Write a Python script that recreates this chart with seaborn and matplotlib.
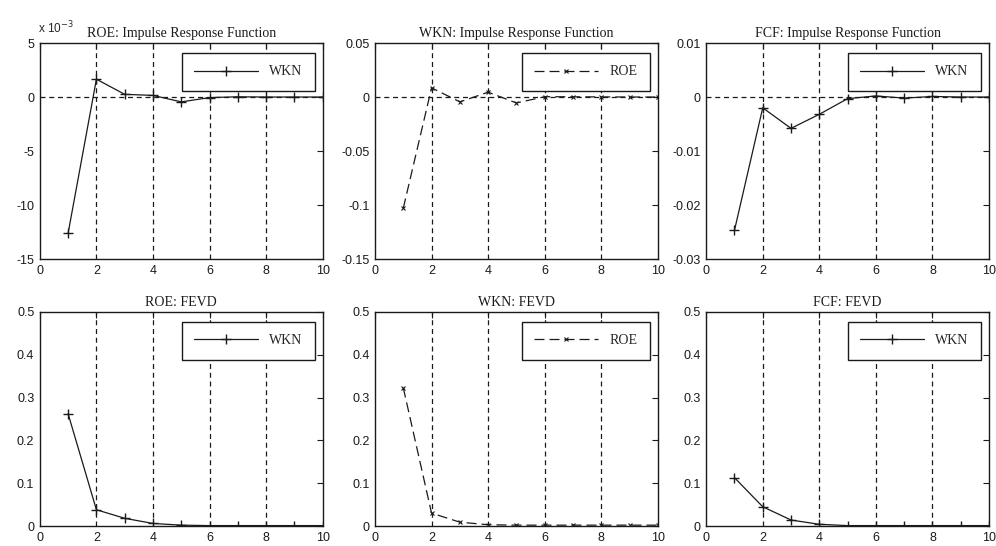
import numpy as np
import pandas as pd
import matplotlib
matplotlib.use("Agg")
import matplotlib.pyplot as plt
import seaborn as sns

sns.set_theme(style="white")
plt.rcParams['font.family'] = ['Liberation Sans', 'DejaVu Sans']

periods = list(range(1, 11))

# impulse responses
roe_irf = [-12.6e-3, 1.65e-3, 0.25e-3, 0.15e-3, -0.45e-3, -0.05e-3, 0.02e-3, 0.0, 0.0, 0.0]
wkn_irf = [-0.103, 0.0085, -0.0045, 0.0045, -0.0055, 0.0003, 0.0002, 0.0001, 0.0, 0.0]
fcf_irf = [-0.0247, -0.0020, -0.0058, -0.0032, -0.0003, 0.0002, -0.0002, 0.0001, 0.0, 0.0]

# variance decompositions
roe_fevd = [0.262, 0.038, 0.018, 0.006, 0.002, 0.001, 0.001, 0.001, 0.001, 0.001]
wkn_fevd = [0.323, 0.030, 0.009, 0.003, 0.002, 0.002, 0.002, 0.002, 0.002, 0.002]
fcf_fevd = [0.113, 0.045, 0.014, 0.004, 0.001, 0.001, 0.001, 0.001, 0.001, 0.001]

titles = ["ROE: Impulse Response Function", "WKN: Impulse Response Function",
          "FCF: Impulse Response Function", "ROE: FEVD", "WKN: FEVD", "FCF: FEVD"]
series = [roe_irf, wkn_irf, fcf_irf, roe_fevd, wkn_fevd, fcf_fevd]
shock = ["WKN", "ROE", "WKN", "WKN", "ROE", "WKN"]
ylims = [(-0.015, 0.005), (-0.15, 0.05), (-0.03, 0.01), (0, 0.5), (0, 0.5), (0, 0.5)]
yticks = [np.arange(-0.015, 0.0051, 0.005), np.arange(-0.15, 0.051, 0.05),
          np.arange(-0.03, 0.011, 0.01), np.arange(0, 0.51, 0.1),
          np.arange(0, 0.51, 0.1), np.arange(0, 0.51, 0.1)]

fig = plt.figure(figsize=(9.96, 5.46), dpi=100)
lefts = [0.040, 0.3765, 0.709]
rows = [(0.5256, 0.3956), (0.0366, 0.392)]

serif = ['Liberation Serif', 'DejaVu Serif']

for i in range(6):
    r, c = divmod(i, 3)
    ax = fig.add_axes([lefts[c], rows[r][0], 0.284, rows[r][1]])
    df = pd.DataFrame({"period": periods, "value": series[i]})
    if shock[i] == "ROE":
        sns.lineplot(data=df, x="period", y="value", ax=ax, color="k", lw=0.9,
                     marker="x", markersize=3.5, markeredgewidth=0.8,
                     markeredgecolor="k", label=shock[i])
        ax.lines[-1].set_dashes([8, 4])
    else:
        sns.lineplot(data=df, x="period", y="value", ax=ax, color="k", lw=0.9,
                     marker="+", markersize=6.5, markeredgewidth=1.0,
                     markeredgecolor="k", label=shock[i])
    if r == 0:
        ax.axhline(0, color="k", lw=0.9, ls=(0, (4, 3)), zorder=1)
    for xv in [2, 4, 6, 8]:
        ax.axvline(xv, color="k", lw=0.9, ls=(0, (4, 3)), zorder=1)
    ax.set_xlim(0, 10)
    ax.set_ylim(*ylims[i])
    ax.set_xticks(range(0, 11, 2))
    ax.set_yticks(yticks[i])
    if i == 0:
        ax.set_yticklabels(["-15", "-10", "-5", "0", "5"])
        ax.text(-0.005, 1.03, r"x 10$^{-3}$", transform=ax.transAxes, fontsize=8.5,
                ha="left", va="bottom")
    else:
        ax.set_yticklabels([f"{v:g}" for v in np.round(yticks[i], 3)])
    ax.set_xlabel("")
    ax.set_ylabel("")
    ax.tick_params(direction="in", top=True, right=True, length=4, width=0.8,
                   labelsize=9, color="k", labelcolor="k", pad=4)
    for s in ax.spines.values():
        s.set_color("k")
        s.set_linewidth(1.0)
    ax.set_title(titles[i], fontsize=10, family=serif, pad=4, color="k")
    leg = ax.legend(loc="upper right", bbox_to_anchor=(0.972, 0.954),
                    borderaxespad=0, fancybox=False, edgecolor="k", framealpha=1,
                    handlelength=4.6, borderpad=0.9, handletextpad=0.8,
                    prop={"family": serif, "size": 10})
    leg.get_frame().set_linewidth(1.0)

fig.savefig("out.png", dpi=100)
